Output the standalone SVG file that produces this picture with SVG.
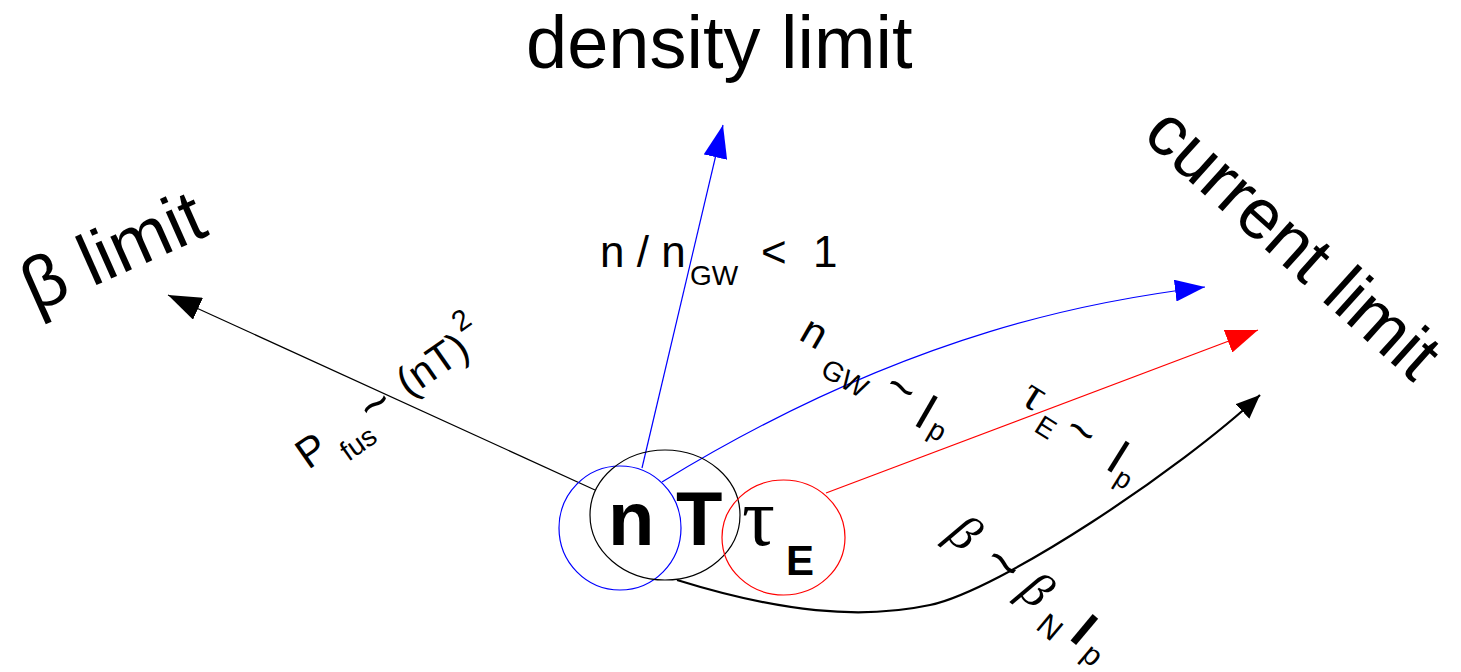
<svg xmlns="http://www.w3.org/2000/svg" width="1461" height="672" viewBox="0 0 1461 672">
<style>
text{font-family:"Liberation Sans",Arial,sans-serif;fill:#000}
.t{font-size:73px}
.c{text-anchor:middle}
.serif{font-family:"Liberation Serif","Times New Roman",serif}
.it{font-style:italic}
.b{font-weight:bold}
.thin{fill:none;stroke-width:1.2}
</style>
<defs>
<marker id="hk" markerUnits="userSpaceOnUse" markerWidth="34" markerHeight="24" refX="33" refY="12" orient="auto"><path d="M0,0 L33,12 L0,24 z" fill="#000"/></marker>
<marker id="hb" markerUnits="userSpaceOnUse" markerWidth="34" markerHeight="24" refX="33" refY="12" orient="auto"><path d="M0,0 L33,12 L0,24 z" fill="#0000ff"/></marker>
<marker id="hb2" markerUnits="userSpaceOnUse" markerWidth="31" markerHeight="22" refX="30" refY="11" orient="auto"><path d="M0,0 L30,11 L0,22 z" fill="#0000ff"/></marker>
<marker id="hr" markerUnits="userSpaceOnUse" markerWidth="33" markerHeight="24" refX="32" refY="12" orient="auto"><path d="M0,0 L32,12 L0,24 z" fill="#ff0000"/></marker>
<marker id="hk2" markerUnits="userSpaceOnUse" markerWidth="25" markerHeight="20" refX="24" refY="10" orient="auto"><path d="M0,0 L24,10 L0,20 z" fill="#000"/></marker>
</defs>

<g id="titles">
<text id="density-limit" x="526" y="68" style="font-size:74px">density limit</text>
<text id="beta-limit" class="t c" transform="translate(115,256) rotate(-24)" y="19">β limit</text>
<text id="current-limit" class="c" transform="translate(1294,242) rotate(42)" y="25" style="font-size:71px">current limit</text>
</g>

<g id="connectors">
<line x1="595" y1="490" x2="168" y2="295" stroke="#000" class="thin" marker-end="url(#hk)"/>
<line x1="642" y1="468" x2="723" y2="125" stroke="#0000ff" class="thin" marker-end="url(#hb)"/>
<path d="M662,482 C912,329 1105,299 1205,287" stroke="#0000ff" class="thin" marker-end="url(#hb2)"/>
<line x1="826" y1="493" x2="1258" y2="330" stroke="#ff0000" class="thin" marker-end="url(#hr)"/>
<path d="M677,580 C780,612 860,620 930,605 S1180,470 1260,395" fill="none" stroke="#000" stroke-width="2.2" marker-end="url(#hk2)"/>
</g>

<g id="node-n">
<ellipse cx="620" cy="528" rx="61" ry="62" fill="none" stroke="#0000ff" stroke-width="1.2"/>
</g>
<g id="node-T">
<ellipse cx="665" cy="515" rx="75" ry="65" fill="none" stroke="#000" stroke-width="1.2"/>
</g>
<g id="node-tau">
<ellipse cx="783.5" cy="537.5" rx="61.5" ry="57.5" fill="none" stroke="#ff0000" stroke-width="1.2"/>
</g>
<g id="center-label">
<text x="608" y="545" class="b" style="font-size:76px">n</text>
<text x="676" y="545" class="b" style="font-size:76px">T</text>
<text x="742" y="545" class="serif" style="font-size:82px">τ</text>
<text x="786" y="575" class="b" style="font-size:42px">E</text>
</g>

<g id="label-ngw-lt1">
<text x="600" y="267" style="font-size:44px">n / n</text>
<text x="690" y="285" style="font-size:28px">GW</text>
<text x="761" y="267" style="font-size:44px">&lt;</text>
<text x="813" y="267" style="font-size:44px">1</text>
</g>

<g id="label-pfus">
<text class="c" transform="translate(311,450) rotate(-35)" y="15" style="font-size:42px">P</text>
<text class="c" transform="translate(358,443) rotate(-35)" y="10" style="font-size:28px">fus</text>
<text class="c" transform="translate(375,404) rotate(-35)" y="17" style="font-size:50px">~</text>
<text class="c" transform="translate(434,367) rotate(-35)" y="11" style="font-size:42px">(nT)</text>
<text class="c" transform="translate(461,320) rotate(-35)" y="10" style="font-size:29px">2</text>
</g>

<g id="label-ngw-ip">
<text class="c" transform="translate(813,335) rotate(30)" y="11" style="font-size:42px">n</text>
<text class="c" transform="translate(845,378) rotate(30)" y="10" style="font-size:28px">GW</text>
<text class="c" transform="translate(902,387) rotate(30)" y="17" style="font-size:48px">~</text>
<text class="c" transform="translate(927,411) rotate(30)" y="18.6" style="font-size:52px">I</text>
<text class="c" transform="translate(935,435) rotate(30)" y="4.3" style="font-size:28px">p</text>
</g>

<g id="label-taue-ip">
<text class="c serif" transform="translate(1032,399) rotate(32)" y="10" style="font-size:48px">τ</text>
<text class="c" transform="translate(1046,427) rotate(32)" y="10" style="font-size:28px">E</text>
<text class="c" transform="translate(1082,430) rotate(32)" y="17" style="font-size:48px">~</text>
<text class="c" transform="translate(1119,456) rotate(32)" y="18" style="font-size:50px">I</text>
<text class="c" transform="translate(1121,483) rotate(32)" y="4" style="font-size:27px">p</text>
</g>

<g id="label-beta-n-ip">
<text class="c serif it" transform="translate(962,536) rotate(40)" y="12" style="font-size:50px">β</text>
<text class="c" transform="translate(1004,563) rotate(40)" y="19" style="font-size:56px">~</text>
<text class="c serif it" transform="translate(1034,593) rotate(40)" y="12" style="font-size:50px">β</text>
<text class="c" transform="translate(1050,627) rotate(40)" y="10.7" style="font-size:31px">N</text>
<text class="c b" transform="translate(1085,629) rotate(40)" y="18" style="font-size:50px">I</text>
<text class="c" transform="translate(1089,659) rotate(40)" y="4.6" style="font-size:30px">p</text>
</g>
</svg>
